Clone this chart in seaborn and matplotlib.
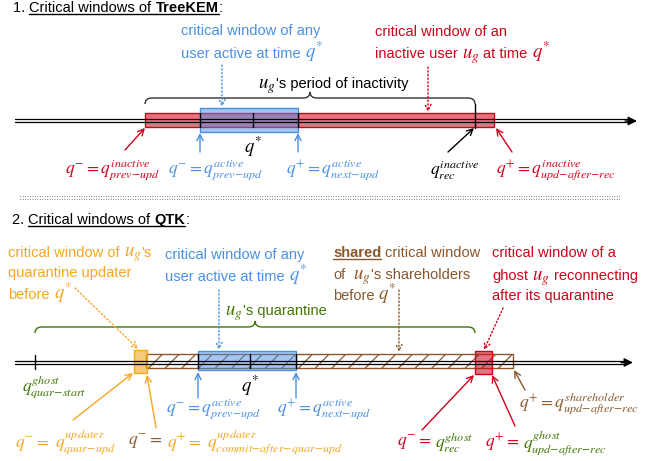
import matplotlib
matplotlib.use("Agg")
import matplotlib.pyplot as plt
import seaborn as sns
from matplotlib.patches import Rectangle, PathPatch
from matplotlib.path import Path

sns.set_style("white")
plt.rcParams["font.family"] = ["Liberation Sans", "DejaVu Sans"]
plt.rcParams["mathtext.fontset"] = "stix"
plt.rcParams["hatch.linewidth"] = 0.9

RED = "#D0021B"
BLUE = "#4A90E2"
ORANGE = "#F5A623"
BROWN = "#8B572A"
GREEN = "#417505"

# ---- 1. TreeKEM (positions along the time axis, px)
tk_axis_y = 121
tk_inactive_win = [145, 494]
tk_active_win = [200, 298]
tk_ticks = [200, 253, 298]
tk_rec = 475
tk_brace = [145, 475, 310]

# ---- 2. QTK
qtk_axis_y = 362.5
qtk_quar_start = 35
qtk_updater_win = [134, 147]
qtk_shared_win = [146, 513]
qtk_active_win = [198, 296]
qtk_ticks = [198, 250, 296]
qtk_ghost_win = [475, 492]
qtk_brace = [35, 475, 255]

SZ = 10.5   # sans text
MI = 13.5   # inline math in sentences
MS = 12.5   # formula labels

fig = plt.figure(figsize=(6.63, 4.61), dpi=100)
ax = fig.add_axes([0, 0, 1, 1])
ax.set_xlim(0, 663)
ax.set_ylim(461, 0)
ax.axis("off")
R = fig.canvas.get_renderer()


def put(x, y, parts, size=SZ, va="baseline"):
    # parts: (text, color, weight, underline, gap)
    for txt, col, wt, ul, gap in parts:
        t = ax.text(x, y, txt, color=col, fontsize=size, fontweight=wt, va=va, ha="left")
        w = t.get_window_extent(renderer=R).width
        if ul:
            ax.plot([x, x + w], [y + 2.2, y + 2.2], color=col, lw=1.0)
        x += w + gap
    return x


def line(x, y, color, segs, bold_ul=()):
    # sentence with bigger inline math; " " means a word gap
    for s in segs:
        if s == " ":
            x += 4
            continue
        size = MI if s.startswith("$") else SZ
        wt = "bold" if s in bold_ul else "normal"
        t = ax.text(x, y, s, color=color, fontsize=size, fontweight=wt, va="baseline", ha="left")
        w = t.get_window_extent(renderer=R).width
        if s in bold_ul:
            ax.plot([x, x + w], [y + 2.2, y + 2.2], color=color, lw=1.0)
        x += w


def brace(x0, x1, xm, y, h, color):
    r = 7
    verts = [(x0, y + h), (x0, y), (x0 + r, y), (xm - r, y), (xm, y), (xm, y - h),
             (xm, y), (xm + r, y), (x1 - r, y), (x1, y), (x1, y + h)]
    C3 = Path.CURVE3
    codes = [Path.MOVETO, C3, C3, Path.LINETO, C3, C3, C3, C3, Path.LINETO, C3, C3]
    ax.add_patch(PathPatch(Path(verts, codes), fc="none", ec=color, lw=1.0))


def arrow(tail, head, color, ls="-"):
    ax.annotate("", xy=head, xytext=tail,
                arrowprops=dict(arrowstyle="->", color=color, lw=1.0, ls=ls,
                                shrinkA=0, shrinkB=0, mutation_scale=11))


def timeline(y, x_end):
    for dy in (-1.5, 1.5):
        ax.plot([15, x_end - 8], [y + dy, y + dy], color="black", lw=0.9)
    ax.annotate("", xy=(x_end, y), xytext=(x_end - 12, y),
                arrowprops=dict(arrowstyle="-|>", color="black", lw=1.0,
                                shrinkA=0, shrinkB=0, mutation_scale=13))


def window(xs, y0, y1, color, alpha):
    ax.add_patch(Rectangle((xs[0], y0), xs[1] - xs[0], y1 - y0, fc=color, alpha=alpha, lw=0))
    ax.add_patch(Rectangle((xs[0], y0), xs[1] - xs[0], y1 - y0, fc="none", ec=color, lw=1.0))


# ================= section 1 =================
put(13, 12, [("1. ", "black", "normal", False, 0),
             ("Critical windows of ", "black", "normal", True, 0),
             ("TreeKEM", "black", "bold", True, 0),
             (":", "black", "normal", False, 0)])

line(181, 35, BLUE, ["critical window of any"])
line(181, 58, BLUE, ["user active at time", " ", r"$q^{*}$"])
line(375, 35.5, RED, ["critical window of an"])
line(375, 58.5, RED, ["inactive user", " ", r"$u_g$", " ", "at time", " ", r"$q^{*}$"])
line(258, 88, "black", [r"$u_g$", "'s period of inactivity"])

brace(tk_brace[0], tk_brace[1], tk_brace[2], 98, 6, "#333333")

window(tk_inactive_win, 113, 127, RED, 0.55)
window(tk_active_win, 108, 132, BLUE, 0.5)
timeline(tk_axis_y, 637)
for x in tk_ticks:
    ax.plot([x, x], [113, 127], color="black", lw=1.0)
ax.plot([tk_rec, tk_rec], [104, 128], color="black", lw=1.0)

arrow((222, 65), (222, 107), BLUE, ":")
arrow((428, 67), (428, 112), RED, ":")
arrow((125, 150), (145, 128), RED)
arrow((200, 152), (200, 133), BLUE)
arrow((298, 152), (298, 133), BLUE)
arrow((448, 152), (474, 128), "black")
arrow((512, 152), (496, 128), RED)

ax.text(253, 147, r"$q^{*}$", fontsize=MS + 1, color="black", ha="center", va="center")
put(65, 170, [(r"$q^{-}=q^{inactive}_{prev{-}upd}$", RED, "normal", False, 0)], size=MS, va="center")
put(168, 170, [(r"$q^{-}=q^{active}_{prev{-}upd}$", BLUE, "normal", False, 0)], size=MS, va="center")
put(286, 170, [(r"$q^{+}=q^{active}_{next{-}upd}$", BLUE, "normal", False, 0)], size=MS, va="center")
put(430, 170, [(r"$q^{inactive}_{rec}$", "black", "normal", False, 0)], size=MS, va="center")
put(496, 170, [(r"$q^{+}=q^{inactive}_{upd{-}after{-}rec}$", RED, "normal", False, 0)], size=MS, va="center")

# separator
for y in (196, 199):
    ax.plot([20, 620], [y, y], color="#555555", lw=0.8, ls=(0, (0.6, 1.6)))

# ================= section 2 =================
put(12, 224, [("2. ", "black", "normal", False, 0),
              ("Critical windows of ", "black", "normal", True, 0),
              ("QTK", "black", "bold", True, 0),
              (":", "black", "normal", False, 0)])

line(8, 256.5, ORANGE, ["critical window of", " ", r"$u_g$", "'s"])
line(8, 276.5, ORANGE, ["quarantine updater"])
line(8, 299, ORANGE, ["before", " ", r"$q^{*}$"])

line(165, 259, BLUE, ["critical window of any"])
line(165, 281, BLUE, ["user active at time", " ", r"$q^{*}$"])

line(333, 257, BROWN, ["shared", " ", "critical window"], bold_ul=("shared",))
line(333, 279, BROWN, ["of", " ", " ", r"$u_g$", "'s shareholders"])
line(333, 300, BROWN, ["before", " ", r"$q^{*}$"])

line(492, 257, RED, ["critical window of a"])
line(492, 280, RED, ["ghost", " ", r"$u_g$", " ", "reconnecting"])
line(492, 300, RED, ["after its quarantine"])

line(225, 315, GREEN, [r"$u_g$", "'s quarantine"])
brace(qtk_brace[0], qtk_brace[1], qtk_brace[2], 327, 6, GREEN)

ax.add_patch(Rectangle((qtk_shared_win[0], 354), qtk_shared_win[1] - qtk_shared_win[0], 14,
                       fc="none", ec=BROWN, hatch="//", lw=1.0))
window(qtk_updater_win, 350, 373, ORANGE, 0.6)
window(qtk_active_win, 351, 370, BLUE, 0.5)
window(qtk_ghost_win, 351, 374, RED, 0.55)
timeline(qtk_axis_y, 633)
ax.plot([qtk_quar_start, qtk_quar_start], [355, 369], color="black", lw=1.0)
for x in qtk_ticks:
    ax.plot([x, x], [354, 368], color="black", lw=1.0)

arrow((75, 288), (138, 349), ORANGE, ":")
arrow((219, 290), (219, 350), BLUE, ":")
arrow((399, 290), (399, 352), BROWN, ":")
arrow((503, 308), (484, 350), RED, ":")

arrow((73, 420), (133, 373), ORANGE)
arrow((156, 428), (147, 375), ORANGE)
arrow((198, 398), (198, 372), BLUE)
arrow((296, 398), (296, 372), BLUE)
arrow((422, 430), (474, 375), RED)
arrow((515, 426), (492, 375), RED)
arrow((525, 390), (514, 370), BROWN)

ax.text(250, 386, r"$q^{*}$", fontsize=MS + 1, color="black", ha="center", va="center")
put(22, 387, [(r"$q^{ghost}_{quar{-}start}$", GREEN, "normal", False, 0)], size=MS, va="center")
put(166, 409, [(r"$q^{-}=q^{active}_{prev{-}upd}$", BLUE, "normal", False, 0)], size=MS, va="center")
put(277, 409, [(r"$q^{+}=q^{active}_{next{-}upd}$", BLUE, "normal", False, 0)], size=MS, va="center")
put(519, 403, [(r"$q^{+}=q^{shareholder}_{upd{-}after{-}rec}$", BROWN, "normal", False, 0)], size=MS, va="center")
put(15, 442, [(r"$q^{-}=\ q^{updater}_{quar{-}upd}$", ORANGE, "normal", False, 0)], size=MS, va="center")
put(128, 442, [(r"$q^{-}=$", BROWN, "normal", False, 4),
               (r"$q^{+}=\ q^{updater}_{commit{-}after{-}quar{-}upd}$", ORANGE, "normal", False, 0)],
    size=MS, va="center")
put(397, 443, [(r"$q^{-}=$", RED, "normal", False, 3),
               (r"$q^{ghost}_{rec}$", GREEN, "normal", False, 0)], size=MS, va="center")
put(485, 443, [(r"$q^{+}=$", RED, "normal", False, 3),
               (r"$q^{ghost}_{upd{-}after{-}rec}$", GREEN, "normal", False, 0)], size=MS, va="center")

fig.savefig("out.png", dpi=100)
